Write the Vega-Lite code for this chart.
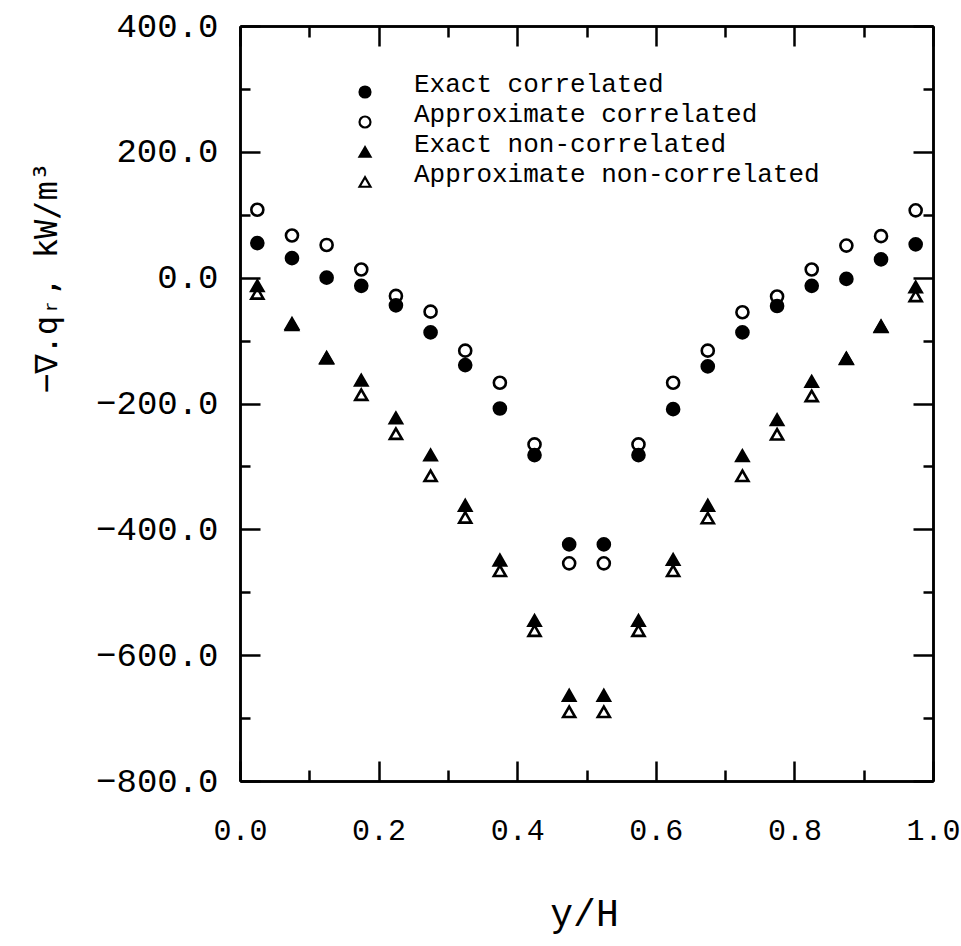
{
  "$schema": "https://vega.github.io/schema/vega-lite/v6.json",
  "autosize": "none",
  "width": 693,
  "height": 755,
  "padding": {"left": 240, "top": 26, "right": 28, "bottom": 165},
  "background": "white",
  "config": {
    "view": {"stroke": null},
    "axis": {
      "domainColor": "black", "domainWidth": 2.5, "tickColor": "black", "tickWidth": 2.5,
      "grid": false, "labelFont": "Liberation Mono", "labelColor": "black",
      "titleFont": "Liberation Mono", "titleColor": "black", "titleFontWeight": "normal",
      "labelFlush": false, "labelOverlap": false
    },
    "legend": {"labelFont": "Liberation Mono", "labelColor": "black"}
  },
  "data": {
    "values": [
      {"x": 0.025, "v": 108, "s": "Approximate correlated"},
      {"x": 0.075, "v": 67, "s": "Approximate correlated"},
      {"x": 0.125, "v": 52, "s": "Approximate correlated"},
      {"x": 0.175, "v": 13, "s": "Approximate correlated"},
      {"x": 0.225, "v": -29, "s": "Approximate correlated"},
      {"x": 0.275, "v": -54, "s": "Approximate correlated"},
      {"x": 0.325, "v": -116, "s": "Approximate correlated"},
      {"x": 0.375, "v": -167, "s": "Approximate correlated"},
      {"x": 0.425, "v": -265, "s": "Approximate correlated"},
      {"x": 0.475, "v": -454, "s": "Approximate correlated"},
      {"x": 0.525, "v": -454, "s": "Approximate correlated"},
      {"x": 0.575, "v": -265, "s": "Approximate correlated"},
      {"x": 0.625, "v": -167, "s": "Approximate correlated"},
      {"x": 0.675, "v": -116, "s": "Approximate correlated"},
      {"x": 0.725, "v": -55, "s": "Approximate correlated"},
      {"x": 0.775, "v": -30, "s": "Approximate correlated"},
      {"x": 0.825, "v": 13, "s": "Approximate correlated"},
      {"x": 0.875, "v": 51, "s": "Approximate correlated"},
      {"x": 0.925, "v": 66, "s": "Approximate correlated"},
      {"x": 0.975, "v": 107, "s": "Approximate correlated"},
      {"x": 0.025, "v": -25, "s": "Approximate non-correlated"},
      {"x": 0.075, "v": -75, "s": "Approximate non-correlated"},
      {"x": 0.125, "v": -128, "s": "Approximate non-correlated"},
      {"x": 0.175, "v": -186, "s": "Approximate non-correlated"},
      {"x": 0.225, "v": -248, "s": "Approximate non-correlated"},
      {"x": 0.275, "v": -315, "s": "Approximate non-correlated"},
      {"x": 0.325, "v": -381, "s": "Approximate non-correlated"},
      {"x": 0.375, "v": -466, "s": "Approximate non-correlated"},
      {"x": 0.425, "v": -561, "s": "Approximate non-correlated"},
      {"x": 0.475, "v": -690, "s": "Approximate non-correlated"},
      {"x": 0.525, "v": -690, "s": "Approximate non-correlated"},
      {"x": 0.575, "v": -561, "s": "Approximate non-correlated"},
      {"x": 0.625, "v": -466, "s": "Approximate non-correlated"},
      {"x": 0.675, "v": -382, "s": "Approximate non-correlated"},
      {"x": 0.725, "v": -315, "s": "Approximate non-correlated"},
      {"x": 0.775, "v": -249, "s": "Approximate non-correlated"},
      {"x": 0.825, "v": -188, "s": "Approximate non-correlated"},
      {"x": 0.875, "v": -129, "s": "Approximate non-correlated"},
      {"x": 0.925, "v": -78, "s": "Approximate non-correlated"},
      {"x": 0.975, "v": -29, "s": "Approximate non-correlated"},
      {"x": 0.025, "v": 55, "s": "Exact correlated"},
      {"x": 0.075, "v": 31, "s": "Exact correlated"},
      {"x": 0.125, "v": 0, "s": "Exact correlated"},
      {"x": 0.175, "v": -13, "s": "Exact correlated"},
      {"x": 0.225, "v": -44, "s": "Exact correlated"},
      {"x": 0.275, "v": -87, "s": "Exact correlated"},
      {"x": 0.325, "v": -139, "s": "Exact correlated"},
      {"x": 0.375, "v": -208, "s": "Exact correlated"},
      {"x": 0.425, "v": -282, "s": "Exact correlated"},
      {"x": 0.475, "v": -424, "s": "Exact correlated"},
      {"x": 0.525, "v": -424, "s": "Exact correlated"},
      {"x": 0.575, "v": -282, "s": "Exact correlated"},
      {"x": 0.625, "v": -209, "s": "Exact correlated"},
      {"x": 0.675, "v": -141, "s": "Exact correlated"},
      {"x": 0.725, "v": -87, "s": "Exact correlated"},
      {"x": 0.775, "v": -45, "s": "Exact correlated"},
      {"x": 0.825, "v": -13, "s": "Exact correlated"},
      {"x": 0.875, "v": -2, "s": "Exact correlated"},
      {"x": 0.925, "v": 29, "s": "Exact correlated"},
      {"x": 0.975, "v": 53, "s": "Exact correlated"},
      {"x": 0.025, "v": -13, "s": "Exact non-correlated"},
      {"x": 0.075, "v": -73, "s": "Exact non-correlated"},
      {"x": 0.125, "v": -127, "s": "Exact non-correlated"},
      {"x": 0.175, "v": -163, "s": "Exact non-correlated"},
      {"x": 0.225, "v": -223, "s": "Exact non-correlated"},
      {"x": 0.275, "v": -282, "s": "Exact non-correlated"},
      {"x": 0.325, "v": -362, "s": "Exact non-correlated"},
      {"x": 0.375, "v": -449, "s": "Exact non-correlated"},
      {"x": 0.425, "v": -545, "s": "Exact non-correlated"},
      {"x": 0.475, "v": -664, "s": "Exact non-correlated"},
      {"x": 0.525, "v": -664, "s": "Exact non-correlated"},
      {"x": 0.575, "v": -545, "s": "Exact non-correlated"},
      {"x": 0.625, "v": -448, "s": "Exact non-correlated"},
      {"x": 0.675, "v": -362, "s": "Exact non-correlated"},
      {"x": 0.725, "v": -283, "s": "Exact non-correlated"},
      {"x": 0.775, "v": -226, "s": "Exact non-correlated"},
      {"x": 0.825, "v": -165, "s": "Exact non-correlated"},
      {"x": 0.875, "v": -128, "s": "Exact non-correlated"},
      {"x": 0.925, "v": -77, "s": "Exact non-correlated"},
      {"x": 0.975, "v": -15, "s": "Exact non-correlated"}
    ]
  },
  "resolve": {"axis": {"x": "independent", "y": "independent"}},
  "layer": [
    {
      "mark": {"type": "point", "strokeWidth": 2.6, "opacity": 1, "size": 145},
      "encoding": {
        "x": {
          "field": "x", "type": "quantitative",
          "scale": {"domain": [0, 1], "nice": false, "zero": false},
          "axis": {
            "orient": "bottom", "values": [0, 0.2, 0.4, 0.6, 0.8, 1.0], "format": ".1f",
            "tickSize": -20, "labelPadding": 54, "labelFontSize": 30, "labelBaseline": "top",
            "title": "y/H", "titleFontSize": 38, "titleBaseline": "alphabetic", "titleY": 144, "titleX": 344
          }
        },
        "y": {
          "field": "v", "type": "quantitative",
          "scale": {"domain": [-800, 400], "nice": false, "zero": false},
          "axis": {
            "orient": "left", "values": [-800, -600, -400, -200, 0, 200, 400], "format": ".1f",
            "tickSize": -20, "labelPadding": 42, "labelFontSize": 34,
            "title": "−∇.qᵣ, kW/m³", "titleFont": "DejaVu Sans Mono", "titleFontSize": 32, "titleAngle": 270,
            "titleX": -184, "titleY": 251, "titleAlign": "center", "titleBaseline": "alphabetic"
          }
        },
        "shape": {
          "field": "s", "type": "nominal",
          "scale": {
            "domain": ["Exact correlated", "Approximate correlated", "Exact non-correlated", "Approximate non-correlated"],
            "range": ["circle", "circle", "triangle-up", "triangle-up"]
          },
          "legend": {
            "title": null, "orient": "none", "legendX": 112, "legendY": 53,
            "labelFontSize": 26, "labelOffset": 36, "labelBaseline": "alphabetic",
            "rowPadding": -1, "symbolSize": 120, "symbolStrokeWidth": 2.2,
            "labelLimit": 600
          }
        },
        "fill": {
          "field": "s", "type": "nominal",
          "scale": {
            "domain": ["Exact correlated", "Approximate correlated", "Exact non-correlated", "Approximate non-correlated"],
            "range": ["black", "white", "black", "white"]
          },
          "legend": {
            "title": null, "orient": "none", "legendX": 112, "legendY": 53,
            "labelFontSize": 26, "labelOffset": 36, "labelBaseline": "alphabetic",
            "rowPadding": -1, "symbolSize": 120, "symbolStrokeWidth": 2.2,
            "labelLimit": 600
          }
        },
        "stroke": {
          "field": "s", "type": "nominal",
          "scale": {
            "domain": ["Exact correlated", "Approximate correlated", "Exact non-correlated", "Approximate non-correlated"],
            "range": ["black", "black", "black", "black"]
          },
          "legend": {
            "title": null, "orient": "none", "legendX": 112, "legendY": 53,
            "labelFontSize": 26, "labelOffset": 36, "labelBaseline": "alphabetic",
            "rowPadding": -1, "symbolSize": 120, "symbolStrokeWidth": 2.2,
            "labelLimit": 600
          }
        }
      }
    },
    {
      "mark": {"type": "point", "opacity": 0},
      "encoding": {
        "x": {"field": "x", "type": "quantitative",
          "axis": {"orient": "bottom", "values": [0.1, 0.3, 0.5, 0.7, 0.9], "tickSize": -11, "labels": false, "title": null}},
        "y": {"field": "v", "type": "quantitative",
          "axis": {"orient": "left", "values": [-700, -500, -300, -100, 100, 300], "tickSize": -10, "labels": false, "title": null}}
      }
    },
    {
      "mark": {"type": "point", "opacity": 0},
      "encoding": {
        "x": {"field": "x", "type": "quantitative",
          "axis": {"orient": "top", "values": [0, 0.2, 0.4, 0.6, 0.8, 1.0], "tickSize": -20, "labels": false, "title": null}},
        "y": {"field": "v", "type": "quantitative",
          "axis": {"orient": "right", "values": [-800, -600, -400, -200, 0, 200, 400], "tickSize": -20, "labels": false, "title": null}}
      }
    },
    {
      "mark": {"type": "point", "opacity": 0},
      "encoding": {
        "x": {"field": "x", "type": "quantitative",
          "axis": {"orient": "top", "values": [0.1, 0.3, 0.5, 0.7, 0.9], "tickSize": -11, "labels": false, "title": null}},
        "y": {"field": "v", "type": "quantitative",
          "axis": {"orient": "right", "values": [-700, -500, -300, -100, 100, 300], "tickSize": -10, "labels": false, "title": null}}
      }
    }
  ]
}
